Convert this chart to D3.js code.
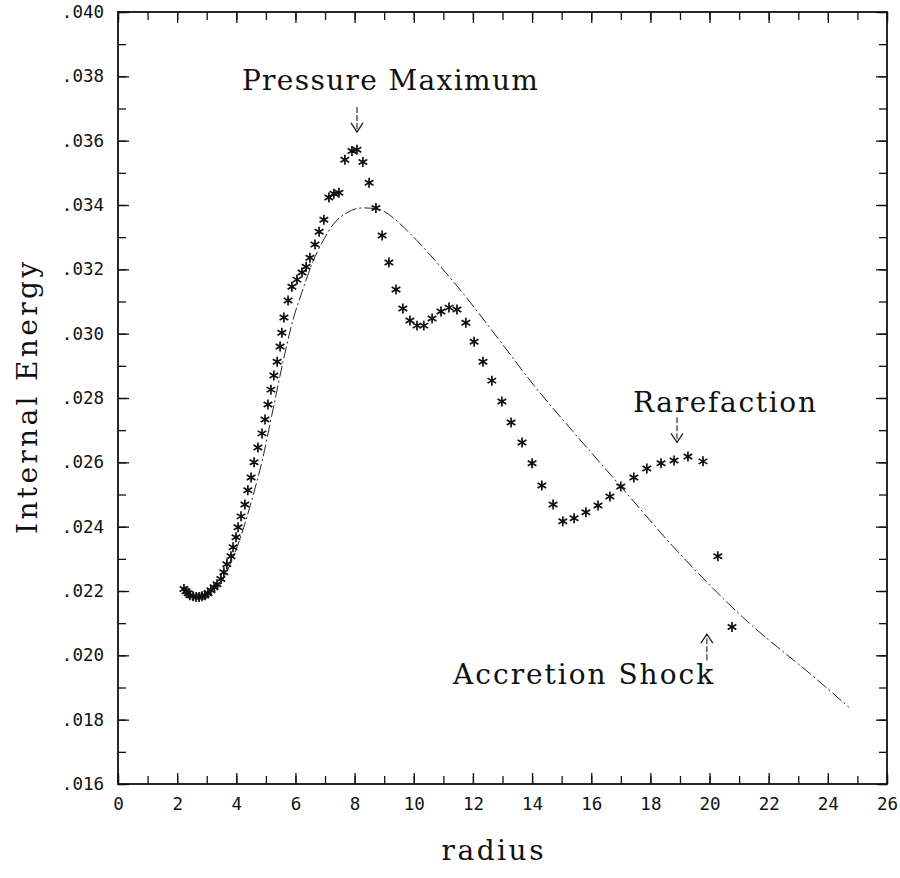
<!DOCTYPE html>
<html>
<head>
<meta charset="utf-8">
<script src="https://cdn.jsdelivr.net/npm/d3@7/dist/d3.min.js"></script>
<style>
  body { margin: 0; background: #fff; }
  .tick text { font-family: "DejaVu Sans Mono", monospace; font-size: 17.5px; fill: #111; }
  .lbl { font-family: "DejaVu Serif", serif; font-size: 28px; fill: #111; }
</style>
</head>
<body>
<div id="vis"></div>
<script>
const FRAME_WIDTH = 900;
const FRAME_HEIGHT = 878;
const MARGINS = {left: 118, right: 13, top: 12, bottom: 94};

// simulation points (asterisks)
const radiusSim = [2.23, 2.30, 2.37, 2.43, 2.54, 2.64, 2.74, 2.84, 2.94, 3.04, 3.14, 3.25,
  3.35, 3.48, 3.58, 3.68, 3.82, 3.89, 3.99, 4.06, 4.16, 4.29, 4.39, 4.50, 4.60, 4.73, 4.87,
  4.97, 5.07, 5.17, 5.27, 5.38, 5.48, 5.54, 5.61, 5.75, 5.88, 6.05, 6.22, 6.36, 6.49, 6.66,
  6.80, 6.96, 7.13, 7.30, 7.47, 7.67, 7.91, 8.08, 8.28, 8.49, 8.72, 8.93, 9.16, 9.40, 9.63,
  9.87, 10.11, 10.34, 10.62, 10.92, 11.19, 11.46, 11.76, 12.04, 12.34, 12.64, 12.98, 13.29,
  13.66, 14.00, 14.33, 14.71, 15.04, 15.42, 15.82, 16.23, 16.63, 17.00, 17.44, 17.88, 18.36,
  18.80, 19.27, 19.78, 20.28, 20.76];
const energySim = [.02206, .02199, .02193, .02187, .02184, .02181, .02181, .02184, .02187,
  .02193, .02202, .02212, .02221, .02237, .02258, .02283, .02308, .02336, .02367, .02398,
  .02432, .02469, .02513, .02553, .02600, .02646, .02690, .02733, .02780, .02826, .02870,
  .02913, .02960, .03003, .03050, .03103, .03146, .03168, .03190, .03208, .03236, .03277,
  .03317, .03354, .03423, .03435, .03438, .03541, .03568, .03572, .03534, .03469, .03391,
  .03305, .03221, .03137, .03078, .03041, .03025, .03025, .03047, .03069, .03081, .03075,
  .03034, .02975, .02913, .02854, .02789, .02724, .02662, .02597, .02528, .02469, .02417,
  .02426, .02445, .02466, .02494, .02525, .02553, .02581, .02597, .02606, .02618, .02603,
  .02308, .02088];

// smooth comparison curve (dash-dot line)
const radiusFit = [2.23, 2.77, 3.28, 3.72, 4.12, 4.53, 4.90, 5.24, 5.58, 5.92, 6.25, 6.59,
  6.90, 7.27, 7.74, 8.28, 8.76, 9.53, 9.77, 10.10, 10.55, 10.89, 11.80, 12.24, 13.10, 14.03,
  15.38, 17.00, 18.76, 20.25, 21.20, 23.50, 24.71];
const energyFit = [.02199, .02174, .02199, .02268, .02361, .02485, .02615, .02764, .02913,
  .03044, .03137, .03224, .03283, .03339, .03376, .03391, .03388, .03342, .03321, .03290,
  .03245, .03210, .03110, .03058, .02955, .02843, .02696, .02525, .02339, .02196, .02112,
  .01935, .01839];

const xTicks = [0, 2, 4, 6, 8, 10, 12, 14, 16, 18, 20, 22, 24, 26];
const yTicks = [.016, .018, .020, .022, .024, .026, .028, .030, .032, .034, .036, .038, .040];

// annotations: label text, label anchor, arrow from/to (data units)
const noteText = ["Pressure Maximum", "Rarefaction", "Accretion Shock"];
const noteX = [4.19, 17.41, 11.33];
const noteY = [.03758, .02758, .01911];
const noteLen = [296, 183, 260];
const arrowX = [8.08, 18.90, 19.91];
const arrowFrom = [.03705, .02740, .01985];
const arrowTo = [.03627, .02662, .02066];

const FRAME1 = d3.select("#vis")
  .append("svg")
    .attr("width", FRAME_WIDTH)
    .attr("height", FRAME_HEIGHT);

const X_SCALE = d3.scaleLinear()
  .domain([0, 26])
  .range([MARGINS.left, FRAME_WIDTH - MARGINS.right]);
const Y_SCALE = d3.scaleLinear()
  .domain([.016, .040])
  .range([FRAME_HEIGHT - MARGINS.bottom, MARGINS.top]);

const minorX = d3.range(0, 27, 1);
const minorY = d3.range(16, 41, 1).map(d => d / 1000);
const yFmt = d => d3.format(".3f")(d).replace(/^0/, "");

const bottomY = FRAME_HEIGHT - MARGINS.bottom;
const rightX = FRAME_WIDTH - MARGINS.right;

function styleAxis(g) {
  g.select(".domain").remove();
  g.selectAll(".tick line").attr("stroke", "#111").attr("stroke-width", 1.3);
}

// minor ticks on all four sides
FRAME1.append("g").attr("transform", `translate(0,${bottomY})`)
  .call(d3.axisBottom(X_SCALE).tickValues(minorX).tickSize(-8).tickFormat(""))
  .call(styleAxis);
FRAME1.append("g").attr("transform", `translate(0,${MARGINS.top})`)
  .call(d3.axisTop(X_SCALE).tickValues(minorX).tickSize(-8).tickFormat(""))
  .call(styleAxis);
FRAME1.append("g").attr("transform", `translate(${MARGINS.left},0)`)
  .call(d3.axisLeft(Y_SCALE).tickValues(minorY).tickSize(-8).tickFormat(""))
  .call(styleAxis);
FRAME1.append("g").attr("transform", `translate(${rightX},0)`)
  .call(d3.axisRight(Y_SCALE).tickValues(minorY).tickSize(-8).tickFormat(""))
  .call(styleAxis);

// major ticks + labels
FRAME1.append("g").attr("transform", `translate(0,${bottomY})`)
  .call(d3.axisBottom(X_SCALE).tickValues(xTicks).tickSize(-11).tickPadding(14)
    .tickFormat(d3.format("d")))
  .call(styleAxis);
FRAME1.append("g").attr("transform", `translate(0,${MARGINS.top})`)
  .call(d3.axisTop(X_SCALE).tickValues(xTicks).tickSize(-11).tickFormat(""))
  .call(styleAxis);
FRAME1.append("g").attr("transform", `translate(${MARGINS.left},0)`)
  .call(d3.axisLeft(Y_SCALE).tickValues(yTicks).tickSize(-11).tickPadding(14)
    .tickFormat(yFmt))
  .call(styleAxis);
FRAME1.append("g").attr("transform", `translate(${rightX},0)`)
  .call(d3.axisRight(Y_SCALE).tickValues(yTicks).tickSize(-11).tickFormat(""))
  .call(styleAxis);

// frame
FRAME1.append("rect")
  .attr("x", MARGINS.left)
  .attr("y", MARGINS.top)
  .attr("width", rightX - MARGINS.left)
  .attr("height", bottomY - MARGINS.top)
  .attr("fill", "none")
  .attr("stroke", "#111")
  .attr("stroke-width", 1.8);

// dash-dot curve
const fitLine = d3.line()
  .x((d, i) => X_SCALE(radiusFit[i]))
  .y((d, i) => Y_SCALE(energyFit[i]))
  .curve(d3.curveMonotoneX);
FRAME1.append("path")
  .datum(radiusFit)
  .attr("d", fitLine)
  .attr("fill", "none")
  .attr("stroke", "#222")
  .attr("stroke-width", 1)
  .attr("stroke-dasharray", "12,3,2,3");

// asterisks
const star = d3.symbol().type(d3.symbolAsterisk).size(70);
FRAME1.selectAll(".pt")
  .data(radiusSim)
  .enter()
  .append("path")
    .attr("class", "pt")
    .attr("transform", (d, i) => `translate(${X_SCALE(d)},${Y_SCALE(energySim[i])})`)
    .attr("d", star)
    .attr("fill", "none")
    .attr("stroke", "#111")
    .attr("stroke-width", 1.7);

// annotations
FRAME1.selectAll(".note")
  .data(noteText)
  .enter()
  .append("text")
    .attr("class", "lbl")
    .attr("x", (d, i) => X_SCALE(noteX[i]))
    .attr("y", (d, i) => Y_SCALE(noteY[i]))
    .attr("textLength", (d, i) => noteLen[i])
    .attr("lengthAdjust", "spacing")
    .text(d => d);

noteText.forEach((t, i) => {
  const x = X_SCALE(arrowX[i]);
  const y1 = Y_SCALE(arrowFrom[i]);
  const y2 = Y_SCALE(arrowTo[i]);
  const dir = y2 > y1 ? 1 : -1;
  FRAME1.append("line")
    .attr("x1", x).attr("x2", x).attr("y1", y1).attr("y2", y2)
    .attr("stroke", "#222").attr("stroke-width", 1.1)
    .attr("stroke-dasharray", "6,2");
  FRAME1.append("path")
    .attr("d", `M${x - 6},${y2 - dir * 9}L${x},${y2}L${x + 6},${y2 - dir * 9}`)
    .attr("fill", "none").attr("stroke", "#222").attr("stroke-width", 1.3);
});

// axis titles
FRAME1.append("text")
  .attr("class", "lbl")
  .attr("x", (MARGINS.left + rightX) / 2 - 10)
  .attr("y", 860)
  .attr("text-anchor", "middle")
  .attr("textLength", 102)
  .attr("lengthAdjust", "spacing")
  .text("radius");

FRAME1.append("text")
  .attr("class", "lbl")
  .attr("transform", `translate(37,${(MARGINS.top + bottomY) / 2}) rotate(-90)`)
  .attr("text-anchor", "middle")
  .attr("textLength", 272)
  .attr("lengthAdjust", "spacing")
  .text("Internal Energy");
</script>
</body>
</html>
